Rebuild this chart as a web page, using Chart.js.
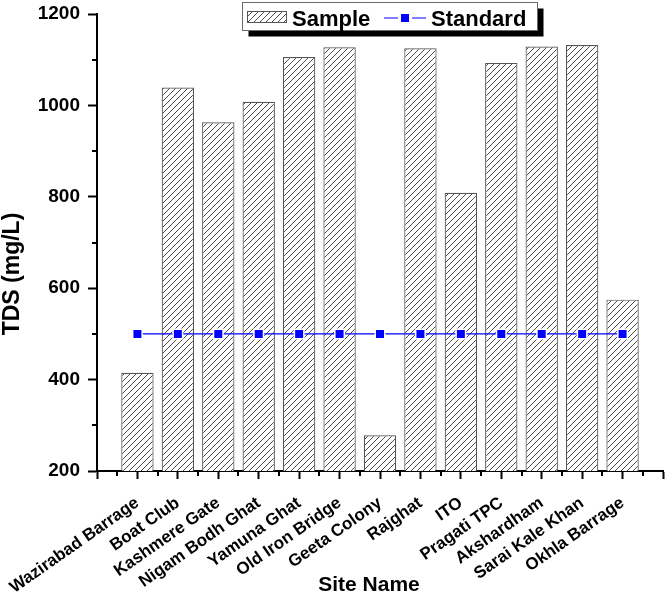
<!DOCTYPE html>
<html>
<head>
<meta charset="utf-8">
<script src="https://cdn.jsdelivr.net/npm/chart.js@4.4.1/dist/chart.umd.min.js"></script>
<style>
  html, body { margin: 0; padding: 0; background: #ffffff; overflow: hidden; }
  canvas { display: block; }
</style>
</head>
<body>
<canvas id="c" width="666" height="593"></canvas>
<script>
// ---- data ----
const sites = ['Wazirabad Barrage', 'Boat Club', 'Kashmere Gate', 'Nigam Bodh Ghat', 'Yamuna Ghat',
  'Old Iron Bridge', 'Geeta Colony', 'Rajghat', 'ITO', 'Pragati TPC', 'Akshardham', 'Sarai Kale Khan', 'Okhla Barrage'];
const sampleTDS = [415, 1039, 963, 1008, 1106, 1127, 278, 1125, 809, 1093, 1129, 1132, 575];
const standardTDS = [500, 500, 500, 500, 500, 500, 500, 500, 500, 500, 500, 500, 500];
const yMajorTicks = [200, 400, 600, 800, 1000, 1200];
const yMinorTicks = [300, 500, 700, 900, 1100];
const seriesNames = ['Sample', 'Standard'];
const xTitle = 'Site Name';
const yTitle = 'TDS (mg/L)';

// padded with one empty slot at each end (axis spans -1 .. 13)
const labels = [''].concat(sites, ['']);
const sampleData = [null].concat(sampleTDS, [null]);
const standardData = [null].concat(standardTDS, [null]);

const FONT = '"Liberation Sans", Arial, Helvetica, sans-serif';

function makeHatch() {
  const s = 6;
  const c = document.createElement('canvas');
  c.width = s; c.height = s;
  const g = c.getContext('2d');
  g.fillStyle = '#ffffff';
  g.fillRect(0, 0, s, s);
  g.strokeStyle = '#3a3a3a';
  g.lineWidth = 0.9;
  g.beginPath();
  g.moveTo(-1, s + 1); g.lineTo(s + 1, -1);
  g.moveTo(-1, 1); g.lineTo(1, -1);
  g.moveTo(s - 1, s + 1); g.lineTo(s + 1, s - 1);
  g.stroke();
  return document.getElementById('c').getContext('2d').createPattern(c, 'repeat');
}
const hatch = makeHatch();

function zeroPad(scale) {
  scale.paddingTop = 0; scale.paddingBottom = 0;
  scale.paddingLeft = 0; scale.paddingRight = 0;
}

const decorPlugin = {
  id: 'decor',
  afterDraw(chart) {
    const ctx = chart.ctx;
    const xs = chart.scales.x, ys = chart.scales.y;
    const area = chart.chartArea;
    ctx.save();
    // minor ticks
    ctx.strokeStyle = '#000';
    ctx.lineWidth = 2;
    ctx.beginPath();
    yMinorTicks.forEach(v => {
      const py = Math.round(ys.getPixelForValue(v));
      ctx.moveTo(area.left - 5, py); ctx.lineTo(area.left, py);
    });
    for (let i = 0; i < labels.length - 1; i++) {
      const px = Math.round((xs.getPixelForTick(i) + xs.getPixelForTick(i + 1)) / 2);
      ctx.moveTo(px, area.bottom); ctx.lineTo(px, area.bottom + 5);
    }
    ctx.stroke();

    // axis titles
    ctx.fillStyle = '#000';
    ctx.font = 'bold 21px ' + FONT;
    ctx.textAlign = 'center';
    ctx.textBaseline = 'alphabetic';
    ctx.fillText(xTitle, 369, 591);
    ctx.save();
    ctx.font = 'bold 23px ' + FONT;
    ctx.translate(18.5, 274);
    ctx.rotate(-Math.PI / 2);
    ctx.fillText(yTitle, 0, 0);
    ctx.restore();

    // legend
    const L = 242.5, T = 2.5, W = 295, H = 28;
    ctx.fillStyle = '#000';
    ctx.fillRect(L + 6, T + 6, W, H);
    ctx.fillStyle = '#fff';
    ctx.fillRect(L, T, W, H);
    ctx.strokeStyle = '#6a6a6a';
    ctx.lineWidth = 1;
    ctx.strokeRect(L, T, W, H);
    // sample swatch
    ctx.fillStyle = hatch;
    ctx.fillRect(247, 11, 40, 12);
    ctx.strokeStyle = '#555';
    ctx.strokeRect(247.5, 11.5, 39, 11);
    ctx.fillStyle = '#000';
    ctx.font = 'bold 22px ' + FONT;
    ctx.textAlign = 'left';
    ctx.fillText(seriesNames[0], 292, 25.5);
    // standard swatch
    ctx.strokeStyle = '#0000ff';
    ctx.lineWidth = 1.2;
    ctx.beginPath();
    ctx.moveTo(384, 18); ctx.lineTo(398, 18);
    ctx.moveTo(412, 18); ctx.lineTo(426, 18);
    ctx.stroke();
    ctx.fillStyle = '#0000ff';
    ctx.fillRect(401, 14, 8, 8);
    ctx.fillStyle = '#000';
    ctx.fillText(seriesNames[1], 431, 25.5);
    ctx.restore();
  }
};

new Chart(document.getElementById('c'), {
  data: {
    labels: labels,
    datasets: [
      {
        type: 'line',
        label: seriesNames[1],
        data: standardData,
        order: 0,
        borderColor: '#0000ff',
        borderWidth: 1.2,
        pointStyle: 'rect',
        pointRadius: 6.7,
        pointBackgroundColor: '#0000ff',
        pointBorderColor: '#ffffff',
        pointBorderWidth: 1.5,
        spanGaps: false,
        fill: false
      },
      {
        type: 'bar',
        label: seriesNames[0],
        data: sampleData,
        order: 1,
        backgroundColor: hatch,
        borderColor: '#555555',
        borderWidth: 1.2,
        barPercentage: 0.8,
        categoryPercentage: 1.0
      }
    ]
  },
  options: {
    responsive: false,
    devicePixelRatio: 1,
    animation: false,
    layout: { autoPadding: false, padding: { top: 14, right: 3, left: 0, bottom: 0 } },
    plugins: {
      legend: { display: false },
      tooltip: { enabled: false },
      title: { display: false }
    },
    scales: {
      x: {
        type: 'category',
        offset: false,
        grid: {
          offset: false,
          drawOnChartArea: false,
          drawTicks: true,
          tickLength: 8,
          tickWidth: 2,
          tickColor: '#000'
        },
        border: { display: true, color: '#000', width: 2 },
        ticks: {
          autoSkip: false,
          minRotation: 35,
          maxRotation: 35,
          padding: 14,
          color: '#000',
          font: { family: FONT, size: 17, weight: 'bold' }
        },
        title: { display: false, text: xTitle },
        afterFit(scale) { scale.height = 122; zeroPad(scale); }
      },
      y: {
        type: 'linear',
        min: 200,
        max: 1200,
        afterBuildTicks(scale) { scale.ticks = yMajorTicks.map(v => ({ value: v })); },
        grid: {
          drawOnChartArea: false,
          drawTicks: true,
          tickLength: 9,
          tickWidth: 2,
          tickColor: '#000'
        },
        border: { display: true, color: '#000', width: 2 },
        ticks: {
          padding: 8,
          color: '#000',
          font: { family: FONT, size: 19, weight: 'bold' },
          callback: (v) => String(v)
        },
        title: { display: false, text: yTitle },
        afterFit(scale) { scale.width = 97; zeroPad(scale); }
      }
    }
  },
  plugins: [decorPlugin]
});
</script>
</body>
</html>
